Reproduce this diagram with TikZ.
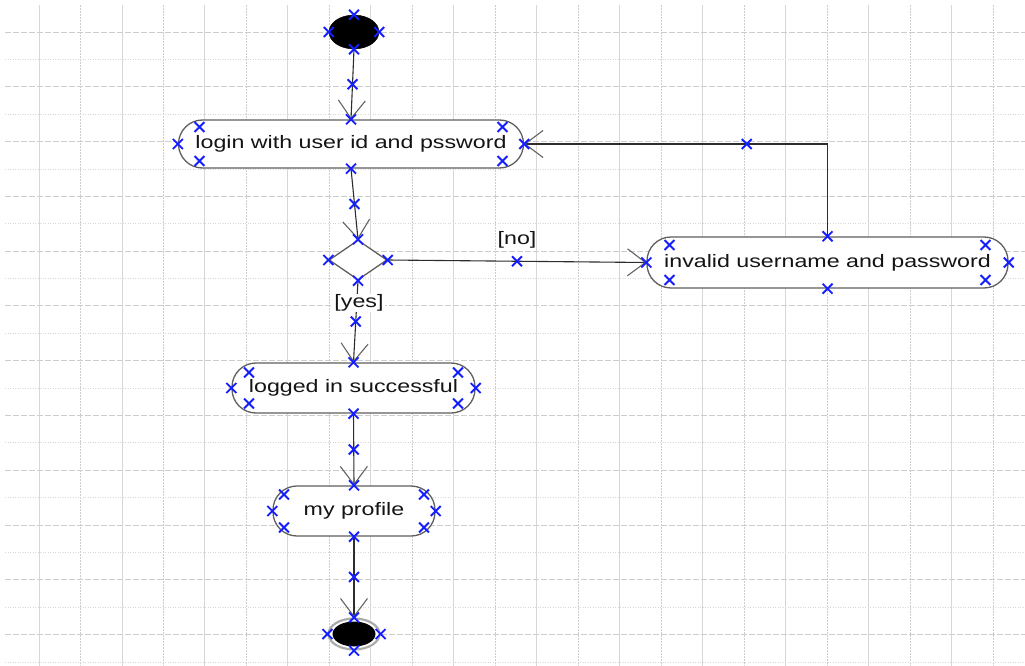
\documentclass[tikz,border=0pt]{standalone}
\usepackage{fontspec}
\newfontfamily\lblfont[FakeStretch=1.29]{Liberation Sans}
\usetikzlibrary{arrows.meta,shapes.geometric,shapes.misc,calc}
\definecolor{mkblue}{RGB}{20,30,255}
\definecolor{edgecol}{RGB}{45,45,45}
\definecolor{bordercol}{RGB}{95,95,95}
\definecolor{gridcol}{RGB}{205,205,205}
\definecolor{txtcol}{RGB}{20,20,20}
\definecolor{tipcol}{RGB}{100,100,100}

\begin{document}
\begin{tikzpicture}[x=1pt,y=-1pt,
  gridsolid/.style={draw=gridcol!80, line width=0.9pt},
  griddash/.style={draw=gridcol, line width=0.9pt, dash pattern=on 2pt off 1pt},
  hdash/.style={draw=gridcol, line width=0.9pt, dash pattern=on 6pt off 2pt},
  hdot/.style={draw=gridcol!80, line width=0.9pt, dash pattern=on 1pt off 1.5pt},
  action/.style={rectangle, rounded corners=24pt, draw=bordercol, line width=1.3pt,
    fill=white, inner sep=0pt, font=\lblfont\fontsize{18}{20}\selectfont, text=txtcol},
  startdot/.style={ellipse, fill=black, draw=black, minimum width=50pt, minimum height=34pt, inner sep=0pt},
  endring/.style={ellipse, fill=white, draw=gray!65, line width=2.2pt, minimum width=51pt, minimum height=31pt, inner sep=0pt},
  enddot/.style={ellipse, fill=black, minimum width=43pt, minimum height=25pt, inner sep=0pt},
  decision/.style={diamond, draw=bordercol, line width=1.3pt, fill=white,
    minimum width=58pt, minimum height=40pt, inner sep=0pt},
  flow/.style={draw=edgecol, line width=1.1pt,
    -{Straight Barb[length=18pt,width=27pt,line width=1.1pt,color=tipcol]}},
  mk/.style={cross out, draw=mkblue, line width=1.9pt, minimum size=8pt, inner sep=0pt},
  guard/.style={font=\lblfont\fontsize{18}{20}\selectfont, text=txtcol, inner sep=1pt}
]
% canvas
\fill[white] (0,0) rectangle (1025,666);
\useasboundingbox (0,0) rectangle (1025,666);

% background grid
\foreach \k in {0,2,...,22} \draw[gridsolid] ({39+41.48*\k},5) -- ({39+41.48*\k},666);
\foreach \k in {1,3,...,23} \draw[griddash] ({39+41.48*\k},5) -- ({39+41.48*\k},666);
\foreach \k in {0,2,...,22} \draw[hdash] (5,{32+27.39*\k}) -- (1025,{32+27.39*\k});
\foreach \k in {1,3,...,23} \draw[hdot] (5,{32+27.39*\k}) -- (1025,{32+27.39*\k});

% activity nodes
\node[startdot] (start) at (354,32) {};
\node[action, minimum width=345pt, minimum height=48pt] (login) at (351,144) {login with user id and pssword};
\node[decision] (dec) at (358,260) {};
\node[action, minimum width=361pt, minimum height=51pt] (invalid) at (827.5,262.5) {invalid username and password};
\node[action, minimum width=243pt, minimum height=50pt] (logged) at (353.5,388) {logged in successful};
\node[action, minimum width=162pt, minimum height=50pt] (profile) at (354,511) {my profile};
\node[endring] (endo) at (354,634) {};
\node[enddot] (endi) at (354,634) {};

% guards
\node[guard] (gno) at (517,240) {[no]};

% control flows
\draw[flow] (start.south) -- node[mk] (e1) {} (login.north);
\draw[flow] (login.south) -- node[mk] (e2) {} (dec.north);
\draw[flow] (dec.east) -- node[mk] (e3) {} (invalid.west);
\draw[flow] (dec.south) -- node[mk] (e4) {} (logged.north);
\draw[flow] (logged.south) -- node[mk] (e5) {} (profile.north);
\draw[flow] (profile.south) -- node[mk] (e6) {} (endo.north);
\draw[flow] (invalid.north) |- node[mk, pos=0.633] (e7) {} (login.east);

\node[guard, fill=white] (gyes) at (359,303) {[yes]};

% handles on the nodes
\foreach \n in {start,dec,endo}
  \foreach \a in {north,south,east,west}
    \node[mk] (\n-\a) at (\n.\a) {};
\foreach \n/\dx/\dy in {login/151.5/17, invalid/158/17.5, logged/104.5/15.5, profile/70/16.5} {
  \foreach \a in {north,south,east,west}
    \node[mk] (\n-\a) at (\n.\a) {};
  \node[mk] (\n-nw) at ($(\n.center)+(-\dx,-\dy)$) {};
  \node[mk] (\n-ne) at ($(\n.center)+(\dx,-\dy)$) {};
  \node[mk] (\n-sw) at ($(\n.center)+(-\dx,\dy)$) {};
  \node[mk] (\n-se) at ($(\n.center)+(\dx,\dy)$) {};
}
\end{tikzpicture}
\end{document}
